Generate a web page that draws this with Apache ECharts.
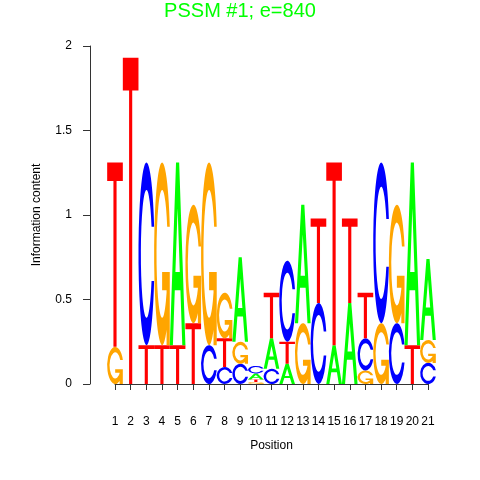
<!DOCTYPE html>
<html><head><meta charset="utf-8">
<script src="https://cdn.jsdelivr.net/npm/echarts@6/dist/echarts.min.js"></script>
<style>html,body{margin:0;padding:0;background:#fff}#c{width:480px;height:480px}</style>
</head><body><div id="c"></div><script>
// ---- data ----
const positions = [1,2,3,4,5,6,7,8,9,10,11,12,13,14,15,16,17,18,19,20,21];
const letters = ['A','C','G','T'];
const heightA = [0,0,0,0,1.08,0,0,0,0.50,0.035,0.18,0.12,0.70,0,0.23,0.48,0,0,0,1.08,0.48];
const heightC = [0,0,1.08,0,0,0,0.23,0.10,0.12,0.045,0.09,0.48,0,0.48,0,0,0.19,0.95,0.36,0,0.125];
const heightG = [0.22,0,0,1.08,0,0.70,1.08,0.27,0.13,0.012,0,0,0.36,0,0,0,0.08,0.36,0.70,0,0.135];
const heightT = [1.09,1.93,0.23,0.23,0.23,0.36,0,0.17,0,0.015,0.27,0.13,0,0.50,1.08,0.50,0.27,0,0,0.23,0];
const yTickValues = [0,0.5,1,1.5,2];
const titleText = 'PSSM #1; e=840';
const xName = 'Position';
const yName = 'Information content';

// ---- glyph shapes (unit box 0..100, y down) ----
const ringPath = 'M97.8 35.2 A50 50 0 1 0 97.8 64.8 L81.7 64.8 A35 35 0 1 1 81.7 35.2 Z';
const glyphs = {
  A: 'M0 100 L40 0 L60 0 L100 100 L80 100 L68 70 L32 70 L20 100 Z M36 60 L64 60 L50 25 Z',
  C: ringPath,
  G: ringPath + ' M97.8 60 L50 60 L50 70 L77.8 70 L77.8 100 L97.8 100 Z',
  T: 'M0 0 L100 0 L100 10 L60 10 L60 100 L40 100 L40 10 L0 10 Z'
};
const colors = {A:'#00ff00', C:'#0000ff', G:'#ffa500', T:'#ff0000'};

// ---- stacked letter items ----
const heights = {A: heightA, C: heightC, G: heightG, T: heightT};
const items = [];
positions.forEach((p, i) => {
  const col = letters.map((L, k) => ({L, k, h: heights[L][i]})).filter(d => d.h > 0);
  col.sort((a, b) => a.h - b.h);
  let base = 0;
  col.forEach(d => { items.push([p, base, d.h, d.k]); base += d.h; });
});

const chart = echarts.init(document.getElementById('c'), null, {renderer: 'canvas'});
const font = 'Liberation Sans, Arial, Helvetica, sans-serif';
chart.setOption({
  animation: false,
  backgroundColor: '#fff',
  title: {text: titleText, left: 'center', top: -4,
    textStyle: {color: '#00ff00', fontSize: 20, fontWeight: 'normal', fontFamily: font}},
  grid: {left: 115, right: 52, top: 46, bottom: 96},
  xAxis: {type: 'value', min: 1, max: 21, interval: 1, offset: 19,
    name: xName, nameLocation: 'middle', nameGap: 37,
    nameTextStyle: {color: '#000', fontSize: 12, fontFamily: font},
    axisLine: {show: true, lineStyle: {color: '#333', width: 1}},
    axisTick: {show: true, length: 6, lineStyle: {color: '#333'}},
    axisLabel: {color: '#000', fontSize: 12, fontFamily: font, margin: 13},
    splitLine: {show: false}},
  yAxis: {type: 'value', min: 0, max: 2, interval: 0.5, offset: 25,
    name: yName, nameLocation: 'middle', nameGap: 47,
    nameTextStyle: {color: '#000', fontSize: 12, fontFamily: font},
    axisLine: {show: true, lineStyle: {color: '#333', width: 1}},
    axisTick: {show: true, length: 7, lineStyle: {color: '#333'}},
    axisLabel: {color: '#000', fontSize: 12, fontFamily: font, margin: 18,
      formatter: v => yTickValues.includes(v) ? String(v) : ''},
    splitLine: {show: false}},
  series: [{
    type: 'custom', clip: false,
    data: items,
    renderItem: function (params, api) {
      const p = api.value(0), b = api.value(1), h = api.value(2), k = api.value(3);
      const tl = api.coord([p - 0.5, b + h]);
      const br = api.coord([p + 0.5, b]);
      const L = letters[k];
      return {
        type: 'path',
        shape: {pathData: glyphs[L], layout: 'cover',
          x: tl[0], y: tl[1], width: br[0] - tl[0], height: br[1] - tl[1]},
        style: {fill: colors[L]}
      };
    }
  }]
});
</script></body></html>
